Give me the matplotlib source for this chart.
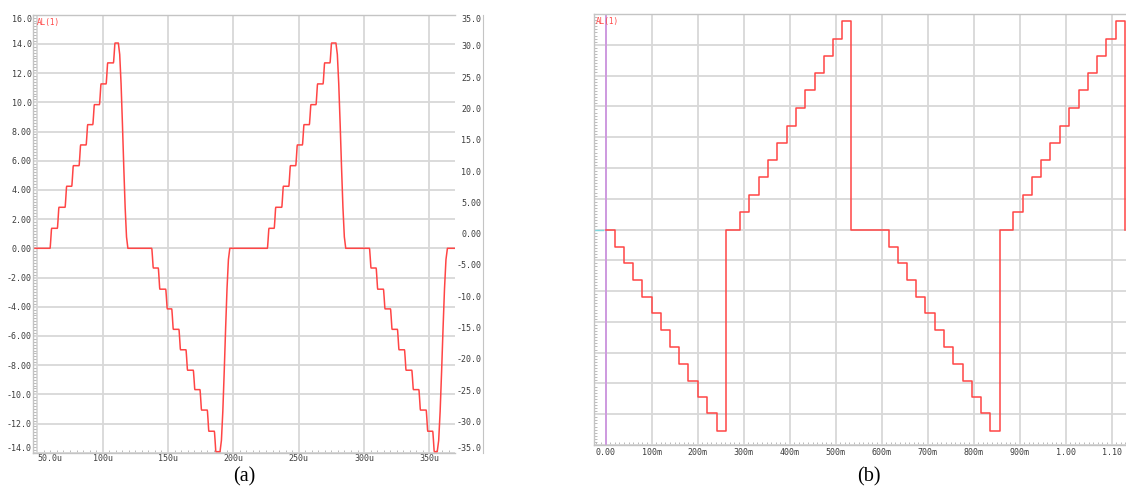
import numpy as np
import matplotlib
matplotlib.use('Agg')
from matplotlib import pyplot as plt
from matplotlib.ticker import MultipleLocator

# ---- panel (a): staircase trace, time in microseconds ----
a_up1_t = [59.7, 65.3, 71.2, 76.3, 81.9, 87.3, 92.4, 97.5, 102.6, 108.2]
a_up2_t = [226.0, 231.2, 237.0, 242.4, 247.7, 252.8, 258.1, 263.2, 268.6, 273.9]
a_up_lv = [1.37, 2.81, 4.25, 5.66, 7.08, 8.47, 9.84, 11.26, 12.70, 14.06]
a_dn1_t = [137.5, 142.5, 148.2, 152.8, 158.3, 163.7, 169.3, 174.4, 180.0, 185.4]
a_dn2_t = [304.1, 309.2, 314.8, 320.2, 325.5, 330.9, 336.5, 341.9, 347.5, 352.5]
a_dn_lv = [-1.35, -2.80, -4.15, -5.55, -6.95, -8.35, -9.68, -11.08, -12.53, -13.93]
# big transitions back to zero (start, end)
a_ret_t0 = [112.0, 189.8, 278.5, 356.0]
a_ret_t1 = [119.3, 197.3, 286.0, 363.8]

a_xticks = [50, 100, 150, 200, 250, 300, 350]
a_xlabels = ['50.0u', '100u', '150u', '200u', '250u', '300u', '350u']
a_yticks = [16, 14, 12, 10, 8, 6, 4, 2, 0, -2, -4, -6, -8, -10, -12, -14]
a_ylabels = ['16.0', '14.0', '12.0', '10.0', '8.00', '6.00', '4.00', '2.00', '0.00',
             '-2.00', '-4.00', '-6.00', '-8.00', '-10.0', '-12.0', '-14.0']
a_rticks = [35, 30, 25, 20, 15, 10, 5, 0, -5, -10, -15, -20, -25, -30, -35]
a_rlabels = ['35.0', '30.0', '25.0', '20.0', '15.0', '10.0', '5.00', '0.00',
             '-5.00', '-10.0', '-15.0', '-20.0', '-25.0', '-30.0', '-35.0']

# ---- panel (b): staircase trace, time in seconds ----
b_dn1_t = [0.020, 0.040, 0.060, 0.080, 0.100, 0.120, 0.140, 0.160, 0.180, 0.201, 0.221, 0.241]
b_up1_t = [0.292, 0.312, 0.333, 0.353, 0.373, 0.394, 0.414, 0.434, 0.454, 0.474, 0.494, 0.514]
b_dn2_t = [0.615, 0.635, 0.655, 0.675, 0.695, 0.715, 0.736, 0.756, 0.776, 0.796, 0.817, 0.836]
b_up2_t = [0.886, 0.907, 0.927, 0.947, 0.967, 0.988, 1.008, 1.028, 1.049, 1.068, 1.088, 1.109]
b_up_lv = [2.81, 5.62, 8.48, 11.29, 14.04, 16.85, 19.72, 22.58, 25.39, 28.20, 30.95, 33.81]
b_dn_lv = [-2.81, -5.51, -8.21, -10.97, -13.61, -16.37, -19.07, -21.77, -24.58, -27.28, -29.87, -32.68]
b_zero_t = [0.262, 0.533, 0.857, 1.130]

b_xticks = [0.0, 0.1, 0.2, 0.3, 0.4, 0.5, 0.6, 0.7, 0.8, 0.9, 1.0, 1.1]
b_xlabels = ['0.00', '100m', '200m', '300m', '400m', '500m', '600m', '700m',
             '800m', '900m', '1.00', '1.10']

W, H = 1126, 488
RED = '#ff4545'
GRID = '#d8d8d8'
AXC = '#c4c4c4'
TXT = '#3c3c3c'
MONO = 'DejaVu Sans Mono'


def smooth_trace(t_start, t_end, events, n=8):
    # events: (t0, t1, new level); eased ramp between levels
    xs, ys = [t_start], [0.0]
    lvl = 0.0
    for t0, t1, new in sorted(events):
        s = np.linspace(0, 1, n)
        e = s * s * (3 - 2 * s)
        xs.extend(t0 + (t1 - t0) * s)
        ys.extend(lvl + (new - lvl) * e)
        lvl = new
    xs.append(t_end)
    ys.append(lvl)
    return xs, ys


def style_axes(ax):
    ax.grid(True, which='major', color=GRID, lw=1.3)
    ax.set_axisbelow(True)
    for side in ['left', 'bottom', 'top']:
        ax.spines[side].set_color(AXC)
        ax.spines[side].set_linewidth(1.0)
    ax.spines['right'].set_visible(False)
    ax.tick_params(which='major', length=0, labelsize=6, labelcolor=TXT)
    ax.tick_params(which='minor', direction='in', length=2, width=0.6, color='#b0b0b0')
    for lab in ax.get_xticklabels() + ax.get_yticklabels():
        lab.set_family(MONO)


fig = plt.figure(figsize=(W / 100, H / 100), dpi=100)

# ---------------- panel (a) ----------------
ax_a = fig.add_axes([33 / W, (H - 452.7) / H, 422 / W, 438 / H])
events = []
for t_list, lv_list in [(a_up1_t, a_up_lv), (a_dn1_t, a_dn_lv),
                        (a_up2_t, a_up_lv), (a_dn2_t, a_dn_lv)]:
    for t, v in zip(t_list, lv_list):
        events.append((t, t + 1.3, v))
for t0, t1 in zip(a_ret_t0, a_ret_t1):
    events.append((t0, t1, 0.0))
xa, ya = smooth_trace(46.7, 369.6, events)
ax_a.plot(xa, ya, color=RED, lw=1.1)
ax_a.set_xlim(46.7, 369.6)
ax_a.set_ylim(-14, 16)
ax_a.set_xticks(a_xticks)
ax_a.set_xticklabels(a_xlabels)
ax_a.set_yticks(a_yticks)
ax_a.set_yticklabels(a_ylabels)
ax_a.xaxis.set_minor_locator(MultipleLocator(5))
ax_a.yaxis.set_minor_locator(MultipleLocator(0.2))
style_axes(ax_a)
ax_a.tick_params(axis='y', pad=1.0)
ax_a.tick_params(axis='x', pad=1.2)
ylabs = ax_a.get_yticklabels()
ylabs[0].set_verticalalignment('top')
ylabs[-1].set_verticalalignment('bottom')
ax_a.get_xticklabels()[0].set_horizontalalignment('left')
ax_a.text(0.01, 0.992, 'AL(1)', transform=ax_a.transAxes, color=RED,
          family=MONO, fontsize=5.5, va='top', ha='left')

# right hand scale of (a)
ax_r = fig.add_axes([455 / W, (H - 452.7) / H, 28 / W, 438 / H])
ax_r.set_ylim(-35, 35)
ax_r.set_xticks([])
ax_r.set_yticks(a_rticks)
ax_r.set_yticklabels(a_rlabels)
for side in ['left', 'top', 'bottom']:
    ax_r.spines[side].set_visible(False)
ax_r.spines['right'].set_color(AXC)
ax_r.yaxis.tick_right()
ax_r.tick_params(axis='y', length=0, pad=-1.2, labelsize=6, labelcolor=TXT)
ax_r.patch.set_alpha(0)
rlabs = ax_r.get_yticklabels()
for lab in rlabs:
    lab.set_horizontalalignment('right')
    lab.set_family(MONO)
rlabs[0].set_verticalalignment('top')
rlabs[-1].set_verticalalignment('bottom')

# ---------------- panel (b) ----------------
ax_b = fig.add_axes([594 / W, (H - 445) / H, 532 / W, 431 / H])
bt = [0.0]
bv = [0.0]
for t_list, lv_list, t_zero in [(b_dn1_t, b_dn_lv, b_zero_t[0]), (b_up1_t, b_up_lv, b_zero_t[1]),
                                (b_dn2_t, b_dn_lv, b_zero_t[2]), (b_up2_t, b_up_lv, b_zero_t[3])]:
    bt.extend(t_list)
    bv.extend(lv_list)
    bt.append(t_zero)
    bv.append(0.0)
ax_b.plot(bt, bv, color=RED, lw=1.1, drawstyle='steps-post')
ax_b.axvline(0.0, color='#cc8fe0', lw=1.2, zorder=1.5)
ax_b.axhline(0.0, xmin=0, xmax=0.017, color='#7fd8e0', lw=1.0)
ax_b.set_xlim(-0.0254, 1.1312)
ax_b.set_ylim(-35, 35)
ax_b.set_xticks(b_xticks)
ax_b.set_xticklabels(b_xlabels)
ax_b.set_yticks(np.arange(-35, 36, 5))
ax_b.set_yticklabels([])
ax_b.xaxis.set_minor_locator(MultipleLocator(0.01))
ax_b.yaxis.set_minor_locator(MultipleLocator(0.5))
style_axes(ax_b)
ax_b.tick_params(axis='x', pad=2.0)
ax_b.text(0.004, 0.992, 'AL(1)', transform=ax_b.transAxes, color=RED,
          family=MONO, fontsize=5.5, va='top', ha='left')

# captions
fig.text(244.5 / W, 1 - 477 / H, '(a)', ha='center', va='center',
         family='Liberation Serif', fontsize=14.5)
fig.text(868.5 / W, 1 - 477 / H, '(b)', ha='center', va='center',
         family='Liberation Serif', fontsize=14.5)

fig.savefig('out.png', dpi=100)
